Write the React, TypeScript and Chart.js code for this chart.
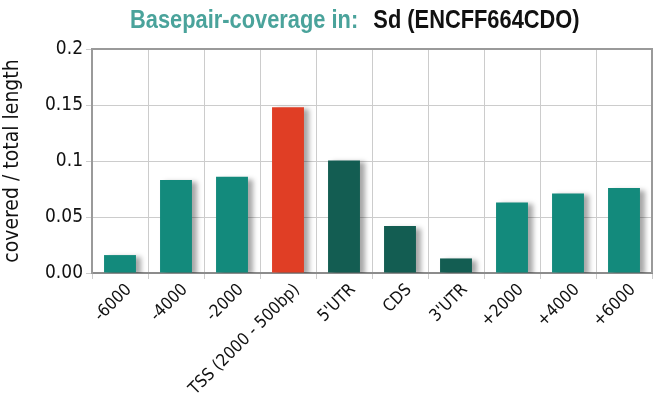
import React, { useEffect, useRef } from "react";
import { Chart, registerables } from "chart.js";

Chart.register(...registerables);

const categories = ["-6000", "-4000", "-2000", "TSS (2000 - 500bp)", "5'UTR", "CDS", "3'UTR", "+2000", "+4000", "+6000"];
const coverage = [0.016, 0.083, 0.086, 0.148, 0.1005, 0.042, 0.013, 0.063, 0.071, 0.076];
const barColors = ["#138a7c", "#138a7c", "#138a7c", "#e03e25", "#135d52", "#135d52", "#135d52", "#138a7c", "#138a7c", "#138a7c"];
const yTicks = [0, 0.05, 0.1, 0.15, 0.2];
const titleLead = "Basepair-coverage in:";
const titleName = "Sd (ENCFF664CDO)";
const yTitle = "covered / total length";

const FONT = "'DejaVu Sans Condensed', 'Liberation Sans', Arial, sans-serif";
const TFONT = "'Liberation Sans', Arial, sans-serif";

const shadowPlugin = {
  id: "barShadow",
  beforeDatasetDraw(chart: any) {
    const ctx = chart.ctx;
    ctx.save();
    ctx.shadowColor = "rgba(0,0,0,0.35)";
    ctx.shadowOffsetX = 5;
    ctx.shadowOffsetY = 2;
    ctx.shadowBlur = 5;
  },
  afterDatasetDraw(chart: any) {
    chart.ctx.restore();
  },
};

const titlePlugin = {
  id: "twoToneTitle",
  afterDraw(chart: any) {
    const ctx = chart.ctx;
    ctx.save();
    ctx.font = `bold 26px ${TFONT}`;
    ctx.textBaseline = "alphabetic";
    ctx.textAlign = "left";
    const sx = 0.84;
    ctx.translate(130, 28);
    ctx.scale(sx, 1);
    ctx.fillStyle = "#4aa39b";
    ctx.fillText(titleLead, 0, 0);
    const w1 = ctx.measureText(titleLead).width;
    ctx.fillStyle = "#111111";
    ctx.fillText(titleName, w1 + 18, 0);
    ctx.restore();
  },
};

const borderPlugin = {
  id: "plotBorder",
  afterDatasetsDraw(chart: any) {
    const { ctx, chartArea } = chart;
    ctx.save();
    ctx.strokeStyle = "#9a9a9a";
    ctx.lineWidth = 2;
    ctx.beginPath();
    ctx.moveTo(chartArea.left, chartArea.top);
    ctx.lineTo(chartArea.right, chartArea.top);
    ctx.lineTo(chartArea.right, chartArea.bottom);
    ctx.stroke();
    ctx.restore();
  },
};

export default function App() {
  const ref = useRef<HTMLCanvasElement>(null);
  useEffect(() => {
    document.body.style.margin = "0";
    const chart = new Chart(ref.current!, {
      type: "bar",
      data: {
        labels: categories,
        datasets: [
          {
            data: coverage,
            backgroundColor: barColors,
            borderWidth: 0,
            categoryPercentage: 1,
            barPercentage: 0.57,
          },
        ],
      },
      plugins: [shadowPlugin, titlePlugin, borderPlugin],
      options: {
        animation: false,
        responsive: false,
        maintainAspectRatio: false,
        layout: { padding: { top: 49, right: 9, left: 0, bottom: 0 } },
        plugins: { legend: { display: false }, title: { display: false }, tooltip: { enabled: false } },
        scales: {
          x: {
            offset: true,
            grid: { offset: true, color: "#cccccc", lineWidth: 1, tickLength: 6, drawTicks: true },
            border: { color: "#8c8c8c", width: 2 },
            ticks: {
              color: "#111111",
              font: { family: FONT, size: 17 },
              minRotation: 45,
              maxRotation: 45,
              autoSkip: false,
              padding: 1,
              labelOffset: 9,
            },
            afterFit(scale: any) {
              scale.height = 134;
            },
          },
          y: {
            min: 0,
            max: 0.2,
            afterBuildTicks(scale: any) {
              scale.ticks = yTicks.map((v) => ({ value: v }));
            },
            grid: { color: "#cccccc", lineWidth: 1, tickLength: 6 },
            border: { color: "#9a9a9a", width: 2 },
            ticks: {
              color: "#111111",
              font: { family: FONT, size: 19 },
              padding: 3,
              callback: (v: any) => (v === 0 ? "0.00" : String(v)),
            },
            title: {
              display: true,
              text: yTitle,
              color: "#111111",
              font: { family: FONT, size: 21 },
              padding: { top: 0, bottom: 1 },
            },
            afterFit(scale: any) {
              scale.width = 92;
            },
          },
        },
      },
    });
    return () => chart.destroy();
  }, []);
  return (
    <div style={{ position: "fixed", left: 0, top: 0, width: 661, height: 407 }}>
      <canvas ref={ref} width={661} height={407} style={{ width: 661, height: 407 }} />
    </div>
  );
}
